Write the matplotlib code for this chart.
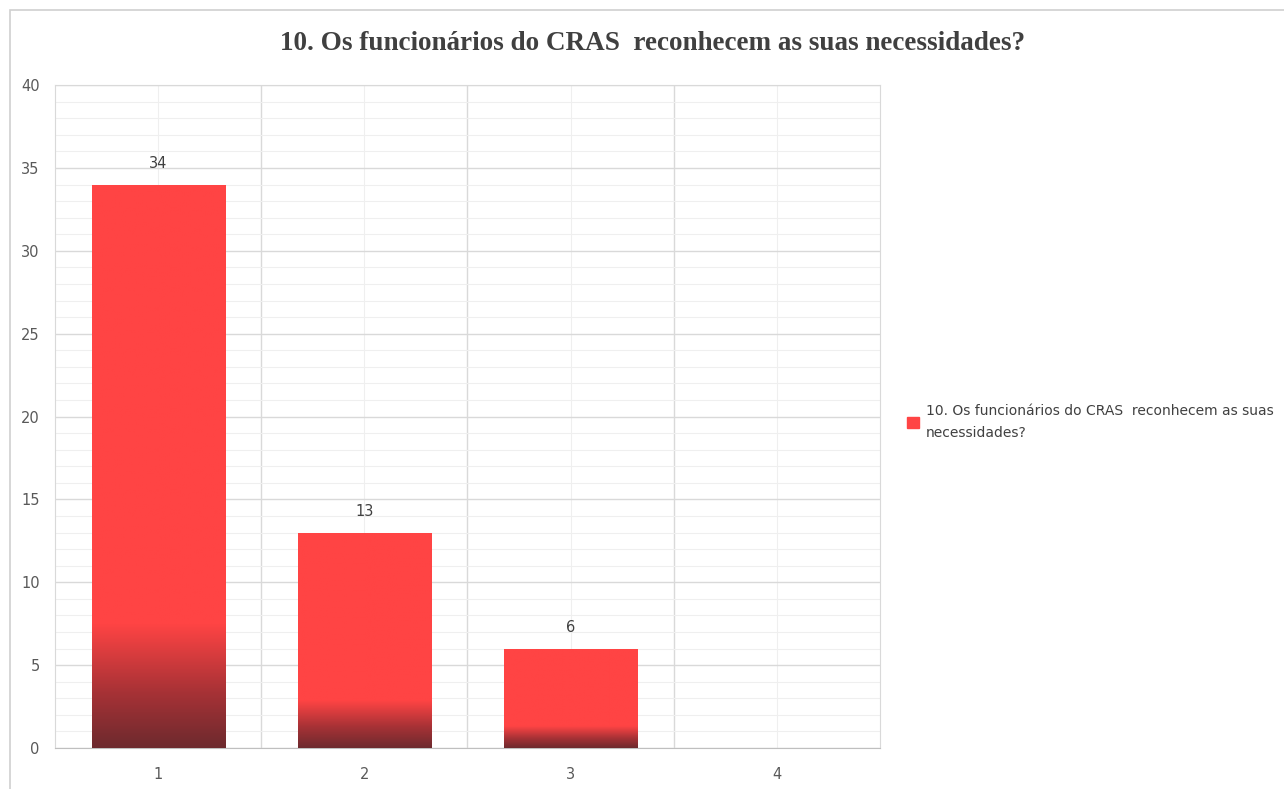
import matplotlib.pyplot as plt
import numpy as np
from matplotlib.colors import LinearSegmentedColormap
from matplotlib.patches import Rectangle


# =========================
# DATA
# =========================

categories = [1, 2, 3, 4]
values = [34, 13, 6, 0]
series_name = "10. Os funcionários do CRAS  reconhecem as suas\nnecessidades?"
title = "10. Os funcionários do CRAS  reconhecem as suas necessidades?"


# =========================
# FIGURE
# =========================

fig = plt.figure(figsize=(12.84, 7.89), dpi=100)
ax = fig.add_axes([0.0428, 0.052, 0.6425, 0.840])

# outer frame of the chart area
fig.patches.append(Rectangle((0.008, -0.01), 1.0, 0.997, transform=fig.transFigure,
                             fill=False, edgecolor="#d0d0d0", linewidth=1.2))

red = "#ff4444"
dark = "#6e2a2e"
cmap = LinearSegmentedColormap.from_list(
    "bar", [(0.0, dark), (0.45, "#a83236"), (1.0, red)], N=256)

bars = ax.bar(categories, values, width=0.645, color=red, zorder=3)

# gradient on the lower part of each bar
grad_pos = np.linspace(0, 1, 256).reshape(-1, 1)
grad = np.clip(grad_pos / 0.22, 0, 1)
for bar in bars:
    h = bar.get_height()
    if h <= 0:
        continue
    x0 = bar.get_x()
    w = bar.get_width()
    im = ax.imshow(grad, cmap=cmap, origin="lower", aspect="auto",
                   extent=[x0, x0 + w, 0, h], zorder=4, vmin=0, vmax=1,
                   interpolation="bilinear")
    im.set_clip_path(bar)

# value labels
for bar, v in zip(bars, values):
    if v == 0:
        continue
    ax.annotate(str(v), (bar.get_x() + bar.get_width() / 2, v),
                xytext=(0, 10), textcoords="offset points",
                ha="center", va="bottom", fontsize=10.5, color="#404040",
                zorder=5)


# =========================
# AXES
# =========================

ax.set_xlim(0.5, 4.5)
ax.set_ylim(0, 40)
ax.set_yticks(np.arange(0, 41, 5))
ax.set_yticks(np.arange(0, 41, 1), minor=True)
ax.set_xticks(categories)
ax.set_xticks([1.5, 2.5, 3.5], minor=True)

ax.grid(axis="y", which="major", color="#d9d9d9", linewidth=1.0, zorder=0)
ax.grid(axis="y", which="minor", color="#efefef", linewidth=0.8, zorder=0)
ax.grid(axis="x", which="minor", color="#d9d9d9", linewidth=1.0, zorder=0)
ax.grid(axis="x", which="major", color="#efefef", linewidth=0.8, zorder=0)

for side in ["top", "right"]:
    ax.spines[side].set_color("#d9d9d9")
ax.spines["left"].set_color("#d9d9d9")
ax.spines["bottom"].set_color("#bfbfbf")

ax.tick_params(which="both", length=0)
ax.tick_params(axis="y", pad=11, labelsize=10.5, labelcolor="#595959")
ax.tick_params(axis="x", pad=14, labelsize=10.5, labelcolor="#595959")


# =========================
# TITLE AND LEGEND
# =========================

fig.text(0.508, 0.945, title, ha="center", va="center",
         fontsize=19.5, fontweight="bold", family="Liberation Serif",
         color="#404040")

leg = fig.legend([Rectangle((0, 0), 1, 1, color=red)], [series_name],
                 loc="center left", bbox_to_anchor=(0.697, 0.465),
                 frameon=False, fontsize=10, labelcolor="#404040",
                 handlelength=0.8, handleheight=0.8, handletextpad=0.5)
leg.get_texts()[0].set_linespacing(1.7)


# =========================
# SAVE FIGURE
# =========================

plt.savefig("out.png", dpi=100)
